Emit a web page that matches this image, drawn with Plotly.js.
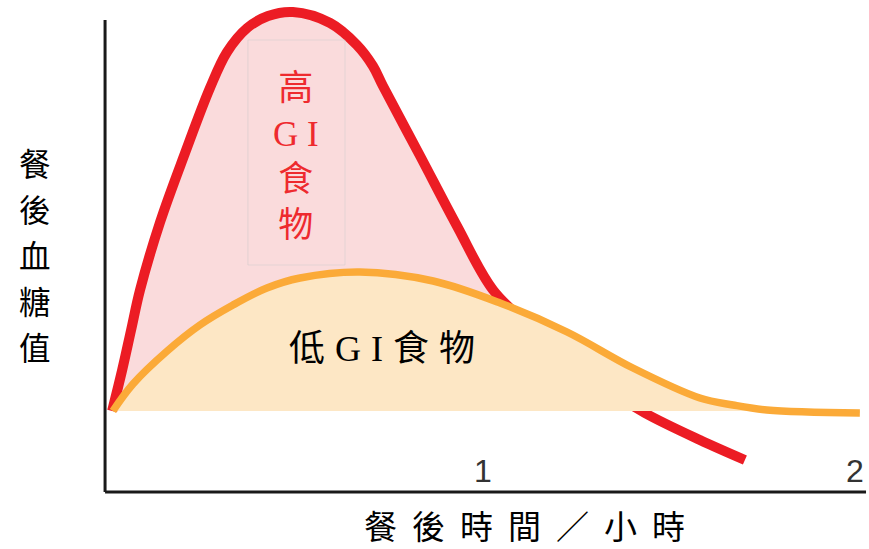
<!DOCTYPE html>
<html>
<head>
<meta charset="utf-8">
<script src="https://cdn.plot.ly/plotly-3.0.1.min.js"></script>
<style>html,body{margin:0;padding:0;background:#fff;}#chart{width:869px;height:549px;}</style>
</head>
<body>
<div id="chart"></div>
<script>
// Time after meal (hours) and relative blood glucose (baseline = 0)
const highGiX = [0.003, 0.030, 0.054, 0.078, 0.132, 0.199, 0.266, 0.312, 0.366, 0.422, 0.489, 0.589, 0.661, 0.704, 0.731, 0.831, 0.930, 1.027, 1.126, 1.234, 1.341, 1.435, 1.583, 1.704];
const highGiY = [0, 0.41, 0.81, 1.21, 1.89, 2.58, 3.23, 3.59, 3.83, 3.95, 3.99, 3.88, 3.66, 3.45, 3.25, 2.55, 1.85, 1.21, 0.85, 0.51, 0.20, -0.02, -0.29, -0.49];
const lowGiX = [0.005, 0.059, 0.151, 0.239, 0.328, 0.419, 0.508, 0.669, 0.866, 1.046, 1.226, 1.403, 1.583, 1.672, 1.763, 2.013];
const lowGiY = [0, 0.27, 0.60, 0.86, 1.06, 1.23, 1.33, 1.39, 1.30, 1.08, 0.79, 0.43, 0.13, 0.06, 0.01, -0.02];
const tickValues = [1, 2];
const tickLabels = ['1', '2'];
const highLabel = ['高', 'G I', '食', '物'];
const lowLabel = '低GI食物';
const yTitleChars = ['餐', '後', '血', '糖', '值'];
const xTitle = '餐後時間／小時';

// pink area only where the high-GI curve is above baseline
const pinkX = [], pinkY = [];
highGiX.forEach((x, i) => { if (highGiY[i] >= 0) { pinkX.push(x); pinkY.push(highGiY[i]); } });

const cjk = '"Noto Sans CJK TC", "Noto Sans CJK SC", sans-serif';
const serifCjk = '"Liberation Serif", "Noto Sans CJK TC", serif';

const traces = [
  {x: pinkX, y: pinkY, type: 'scatter', mode: 'lines', line: {width: 0, shape: 'spline', color: 'rgba(0,0,0,0)'}, fill: 'tozeroy', fillcolor: '#FADBDC', hoverinfo: 'skip'},
  {x: highGiX, y: highGiY, type: 'scatter', mode: 'lines', line: {width: 10, shape: 'spline', color: '#EC1C24'}, hoverinfo: 'skip'},
  {x: lowGiX, y: lowGiY, type: 'scatter', mode: 'lines', line: {width: 7.5, shape: 'spline', color: '#FBAA38'}, fill: 'tozeroy', fillcolor: '#FDE7C5', hoverinfo: 'skip'}
];

const plotTop = 5, plotH = 490;
const yTitleAnns = yTitleChars.map((ch, i) => ({
  xref: 'paper', yref: 'paper', x: -0.0845, y: (plotTop + plotH - (162 + 46 * i)) / plotH,
  xanchor: 'center', yanchor: 'middle', showarrow: false,
  text: ch, font: {family: cjk, size: 31.5, color: '#000000'}
}));

const layout = {
  width: 869, height: 549,
  margin: {l: 100, r: 0, t: plotTop, b: 54},
  paper_bgcolor: '#ffffff', plot_bgcolor: '#ffffff',
  showlegend: false,
  xaxis: {range: [-0.0296, 2.0376], showgrid: false, zeroline: false, showline: false, ticks: '',
          tickmode: 'array', tickvals: tickValues, ticktext: tickLabels, ticklabelposition: 'inside', ticklabelstandoff: 4,
          tickfont: {family: '"Liberation Sans", Arial, sans-serif', size: 32, color: '#333333'}},
  yaxis: {range: [-0.84, 4.06], showgrid: false, zeroline: false, showline: false, showticklabels: false, ticks: ''},
  shapes: [
    {type: 'line', xref: 'x', yref: 'y', x0: -0.016, x1: -0.016, y0: -0.81, y1: 3.91, line: {color: '#1a1a1a', width: 3}},
    {type: 'line', xref: 'x', yref: 'y', x0: -0.016, x1: 2.0296, y0: -0.81, y1: -0.81, line: {color: '#1a1a1a', width: 3}},
    {type: 'rect', xref: 'x', yref: 'y', x0: 0.368, x1: 0.629, y0: 1.46, y1: 3.71, layer: 'above', line: {color: 'rgba(200,200,200,0.45)', width: 1}}
  ],
  annotations: [
    {xref: 'x', yref: 'y', x: 0.497, y: 2.545, xanchor: 'center', yanchor: 'middle', showarrow: false,
     text: highLabel.join('<br>'), font: {family: serifCjk, size: 35, color: '#EE2A2E'}},
    {xref: 'x', yref: 'y', x: 0.742, y: 0.62, xanchor: 'center', yanchor: 'middle', showarrow: false,
     text: '<span style="letter-spacing:10px">' + lowLabel + '</span>', font: {family: serifCjk, size: 36, color: '#000000'}},
    {xref: 'paper', yref: 'paper', x: 0.5615, y: -0.0612, xanchor: 'center', yanchor: 'middle', showarrow: false,
     text: '<span style="letter-spacing:15px">' + xTitle + '</span>', font: {family: cjk, size: 33, color: '#000000'}}
  ].concat(yTitleAnns)
};

Plotly.newPlot('chart', traces, layout, {staticPlot: true, displayModeBar: false});
</script>
</body>
</html>
